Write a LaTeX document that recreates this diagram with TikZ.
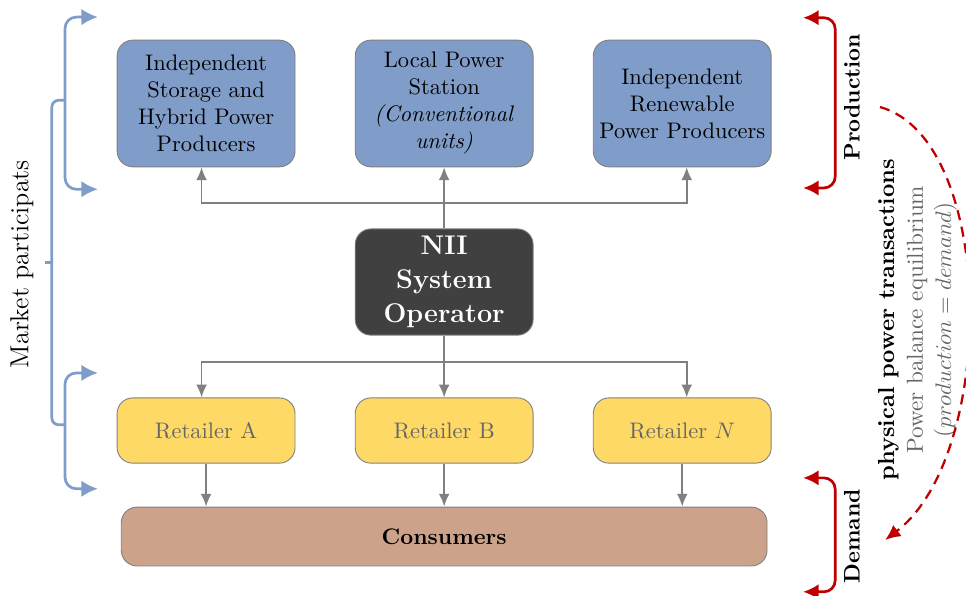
\documentclass[tikz,border=0pt]{standalone}
\usepackage{amsmath}
\usepackage{amssymb}
\usetikzlibrary{arrows.meta}
\definecolor{prodblue}{RGB}{127,157,200}
\definecolor{sogray}{RGB}{64,64,64}
\definecolor{retyellow}{RGB}{255,217,102}
\definecolor{constan}{RGB}{205,162,138}
\definecolor{brred}{RGB}{192,0,0}
\tikzset{
	box/.style = {draw = gray, rounded corners = 7pt, minimum width = 2.78cm, align = center, inner sep = 2pt},
	prodbox/.style = {box, fill = prodblue, minimum height = 1.98cm},
	sobox/.style = {box, fill = sogray, text = white, font = \fontsize{12}{15}\selectfont\bfseries, minimum height = 1.66cm},
	retbox/.style = {box, fill = retyellow, text = black!60, minimum height = 1.02cm},
	flow/.style = {draw = gray, thick, -{Latex[length=2mm,width=1.7mm]}},
	bluebr/.style = {draw = prodblue, very thick, rounded corners = 5pt, {Latex[length=2.6mm,width=2.6mm]}-{Latex[length=2.6mm,width=2.6mm]}},
	redbr/.style = {draw = brred, very thick, rounded corners = 5pt, {Latex[length=2.4mm,width=2.4mm]}-{Latex[length=2.4mm,width=2.4mm]}}
}

\begin{document}
\begin{tikzpicture}
	\useasboundingbox (0,0) rectangle (15.094,9.297);
	\node[prodbox] (storage) at (3.22,7.68) {Independent\\ Storage and\\ Hybrid Power\\ Producers};
	\node[prodbox] (local) at (6.94,7.68) {Local Power\\ Station\\ \textit{(Conventional}\\ \textit{units)}};
	\node[prodbox] (renew) at (10.66,7.68) {Independent\\ Renewable\\ Power Producers};
	\node[sobox] (nii) at (6.94,4.89) {NII\\ System\\ Operator};
	\node[retbox] (retA) at (3.22,2.57) {Retailer A};
	\node[retbox] (retB) at (6.94,2.57) {Retailer B};
	\node[retbox] (retN) at (10.66,2.57) {Retailer $N$};
	\node[draw = gray, fill = constan, rounded corners = 7pt, minimum width = 10.09cm, minimum height = 0.92cm, font = \bfseries] (cons) at (6.94,0.914) {Consumers};
	\coordinate (upbus) at (6.94,6.125);
	\coordinate (downbus) at (6.94,3.64);
	\draw[flow] (nii.north) -- (local.south);
	\draw[flow] (upbus) -| ([xshift=-2pt]storage.south);
	\draw[flow] (upbus) -| ([xshift=2pt]renew.south);
	\draw[flow] (nii.south) -- (retB.north);
	\draw[flow] (downbus) -| ([xshift=-2pt]retA.north);
	\draw[flow] (downbus) -| ([xshift=2pt]retN.north);
	\draw[flow] (retA.south) -- (retA.south |- cons.north);
	\draw[flow] (retB.south) -- (retB.south |- cons.north);
	\draw[flow] (retN.south) -- (retN.south |- cons.north);
	\draw[bluebr] (1.53,9.03) -- (1.016,9.03) -- (1.016,6.34) -- (1.53,6.34);
	\draw[bluebr] (1.53,3.47) -- (1.016,3.47) -- (1.016,1.66) -- (1.53,1.66);
	\draw[draw = prodblue, very thick, rounded corners = 3pt] (1.016,7.73) -- (0.81,7.73) -- (0.81,2.66) -- (1.016,2.66);
	\draw[draw = prodblue, very thick] (0.81,5.19) -- (0.70,5.19);
	\node[rotate = 90, font = \fontsize{11.6}{14}\selectfont] (market) at (0.34,5.17) {Market participats};
	\draw[redbr] (12.55,9.02) -- (13.05,9.02) -- (13.05,6.36) -- (12.55,6.36);
	\draw[redbr] (12.55,1.83) -- (13.05,1.83) -- (13.05,0.05) -- (12.55,0.05);
	\node[rotate = 90, font = \bfseries] (prod) at (13.31,7.78) {Production};
	\node[rotate = 90, font = \bfseries] (dem) at (13.31,0.92) {Demand};
	\node[rotate = 90, align = center, font = \fontsize{10.3}{12.6}\selectfont] (ptrans) at (14.34,4.30) {\textbf{physical power transactions}\\ \textcolor{black!60}{Power balance equilibrium}\\ \textcolor{black!60}{($production = demand$)}};
	\coordinate (trstart) at (13.75,7.625);
	\coordinate (trend) at (13.83,0.86);
	\draw[brred, line width = 1pt, dash pattern = on 4.5pt off 3pt, -{Latex[length=2.4mm,width=2.2mm]}] (trstart) .. controls (15.58,7.11) and (15.58,2.19) .. (trend);
\end{tikzpicture}
\end{document}
